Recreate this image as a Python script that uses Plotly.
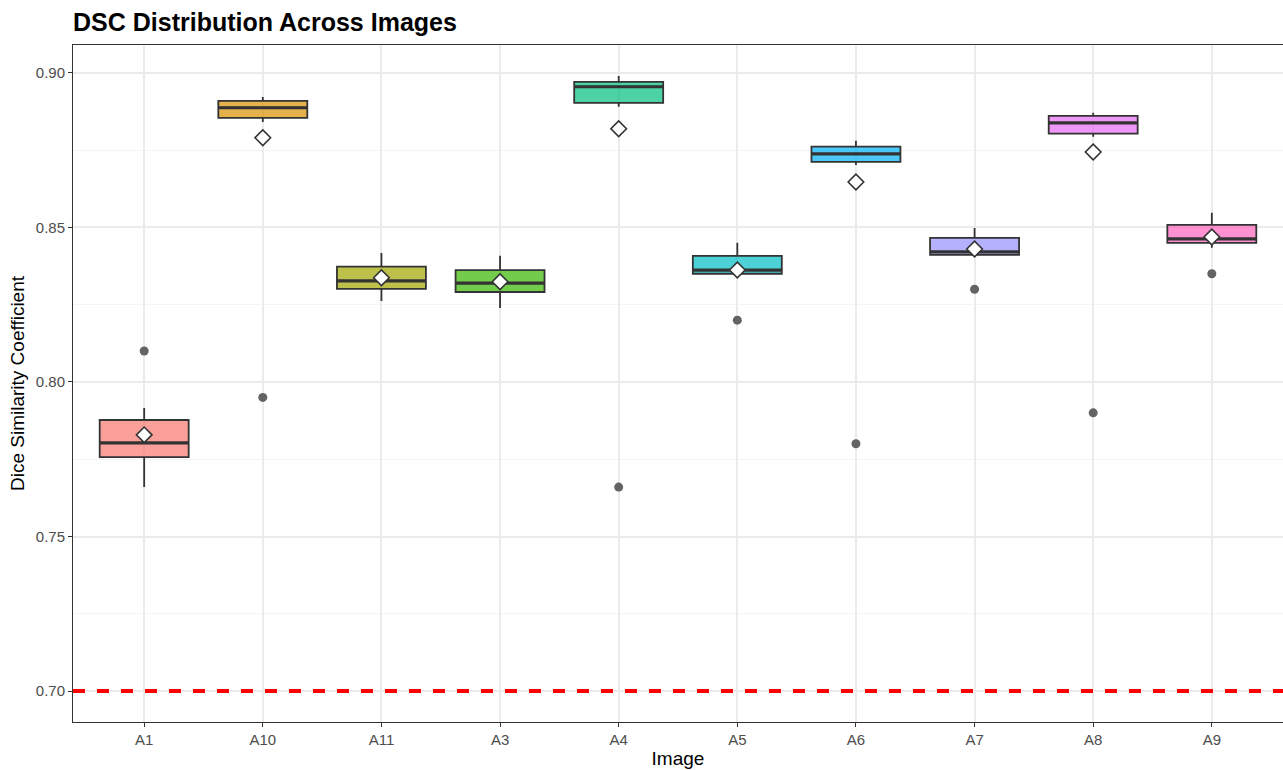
import plotly.graph_objects as go

# Per-image DSC summary statistics
images = ["A1", "A10", "A11", "A3", "A4", "A5", "A6", "A7", "A8", "A9"]
q1 = [0.7757, 0.8854, 0.8301, 0.8291, 0.8903, 0.8350, 0.8712, 0.8411, 0.8803, 0.8450]
median = [0.7803, 0.8887, 0.8327, 0.8320, 0.8955, 0.8362, 0.8738, 0.8421, 0.8838, 0.8463]
q3 = [0.7877, 0.8909, 0.8373, 0.8362, 0.8971, 0.8408, 0.8761, 0.8466, 0.8861, 0.8508]
whisker_low = [0.7660, 0.8841, 0.8262, 0.8239, 0.8890, 0.8337, 0.8702, 0.8405, 0.8793, 0.8434]
whisker_high = [0.7916, 0.8922, 0.8417, 0.8408, 0.8990, 0.8450, 0.8780, 0.8498, 0.8871, 0.8547]
means = [0.7829, 0.8790, 0.8337, 0.8324, 0.8819, 0.8362, 0.8647, 0.8430, 0.8744, 0.8469]

# Outlying observations (image, value)
outlier_images = ["A1", "A10", "A4", "A5", "A6", "A7", "A8", "A9"]
outlier_values = [0.810, 0.795, 0.766, 0.820, 0.780, 0.830, 0.790, 0.835]

THRESHOLD = 0.70

# ggplot-style hue palette, drawn with 0.7 alpha fill
palette = ["#F8766D", "#D89000", "#A3A500", "#39B600", "#00BF7D",
           "#00BFC4", "#00B0F6", "#9590FF", "#E76BF3", "#FF62BC"]


def rgba(hex_color, alpha):
    h = hex_color.lstrip("#")
    r, g, b = int(h[0:2], 16), int(h[2:4], 16), int(h[4:6], 16)
    return f"rgba({r},{g},{b},{alpha})"


BOX_W = 0.75
EDGE = "#333333"
pos = {name: i for i, name in enumerate(images)}

fig = go.Figure()

for i, name in enumerate(images):
    fig.add_trace(go.Box(
        x=[i], q1=[q1[i]], median=[median[i]], q3=[q3[i]],
        lowerfence=[whisker_low[i]], upperfence=[whisker_high[i]],
        width=BOX_W, whiskerwidth=0, boxpoints=False,
        fillcolor=rgba(palette[i], 0.7),
        line=dict(color=EDGE, width=1.8),
        name=name, showlegend=False, hoverinfo="skip",
    ))
    # heavier median bar
    fig.add_trace(go.Scatter(
        x=[i - BOX_W / 2, i + BOX_W / 2], y=[median[i], median[i]],
        mode="lines", line=dict(color=EDGE, width=3.2),
        showlegend=False, hoverinfo="skip",
    ))

fig.add_trace(go.Scatter(
    x=[pos[n] for n in outlier_images], y=outlier_values,
    mode="markers", marker=dict(color="#636363", size=9),
    showlegend=False, hoverinfo="skip",
))

fig.add_trace(go.Scatter(
    x=list(range(len(images))), y=means,
    mode="markers",
    marker=dict(symbol="diamond", size=12, color="white",
                line=dict(color=EDGE, width=1.6)),
    showlegend=False, hoverinfo="skip",
))

fig.add_hline(y=THRESHOLD, line=dict(color="#FF0000", width=4, dash="dash"))

fig.update_layout(
    width=1283, height=770,
    margin=dict(l=73, r=0, t=45, b=48),
    paper_bgcolor="white", plot_bgcolor="white",
    font=dict(family="Liberation Sans, Arial, sans-serif", color="#000000"),
    boxmode="overlay",
    title=dict(
        text="<b>DSC Distribution Across Images</b>",
        font=dict(size=25, color="#000000"),
        x=0, xref="paper", xanchor="left",
        y=1 - 22 / 770, yref="container", yanchor="middle",
    ),
    xaxis=dict(
        range=[-0.6, len(images) - 0.4],
        tickmode="array", tickvals=list(range(len(images))), ticktext=images,
        showgrid=True, gridcolor="#EBEBEB", gridwidth=1.5,
        zeroline=False,
        showline=True, linecolor=EDGE, linewidth=1, mirror=True,
        ticks="outside", ticklen=4, tickcolor=EDGE, tickwidth=1,
        tickfont=dict(size=15, color="#4D4D4D"),
        title=dict(text="Image", font=dict(size=19, color="#000000"), standoff=4),
    ),
    yaxis=dict(
        range=[0.6900, 0.9090],
        tick0=0.70, dtick=0.05, tickformat=".2f",
        showgrid=True, gridcolor="#EBEBEB", gridwidth=1.5,
        minor=dict(dtick=0.025, tick0=0.70, showgrid=True,
                   gridcolor="#F4F4F4", gridwidth=1),
        zeroline=False,
        showline=True, linecolor=EDGE, linewidth=1,
        ticks="outside", ticklen=4, tickcolor=EDGE, tickwidth=1,
        tickfont=dict(size=15, color="#4D4D4D"),
        title=dict(text="Dice Similarity Coefficient",
                   font=dict(size=19, color="#000000"), standoff=6),
    ),
)

fig.write_html("out.html")
